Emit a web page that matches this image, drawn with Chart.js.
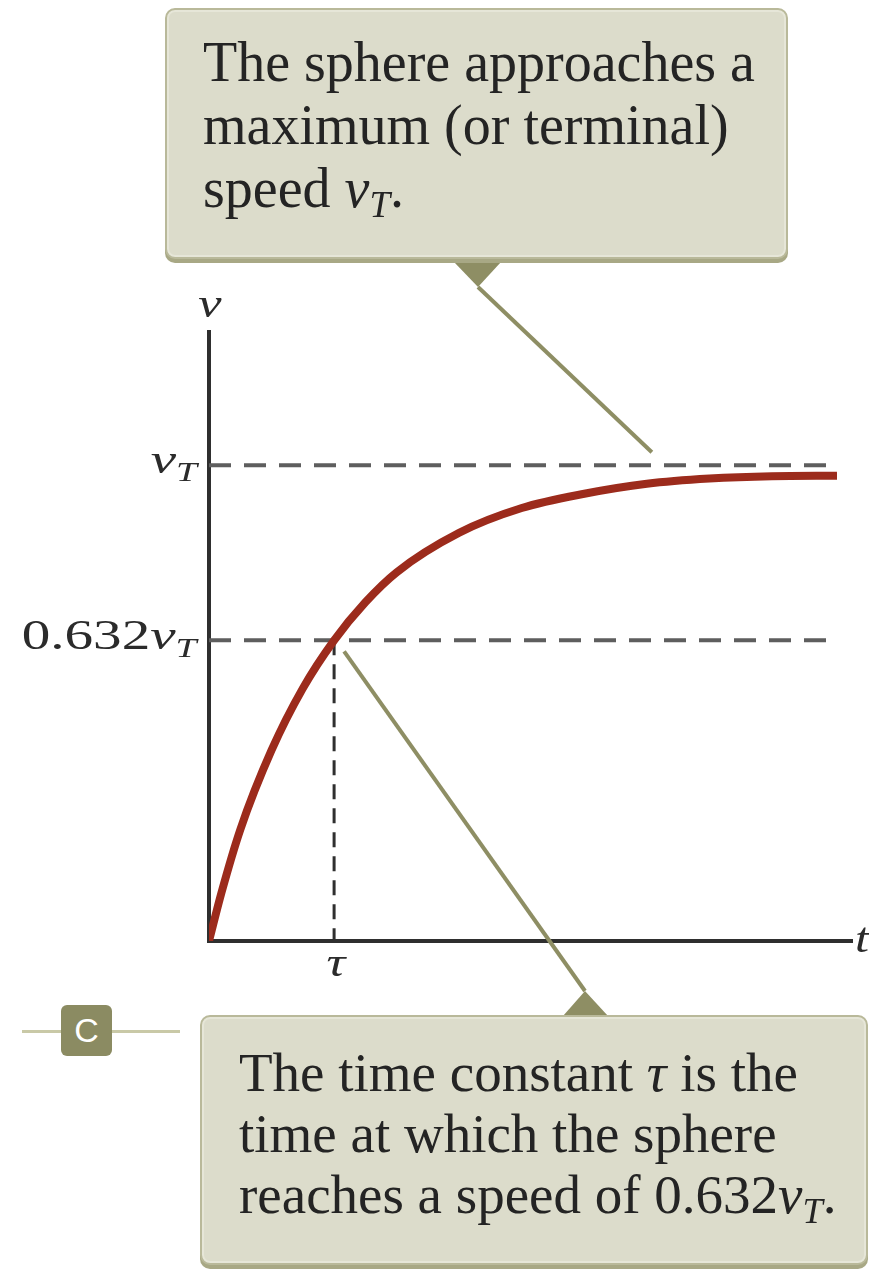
<!DOCTYPE html>
<html>
<head>
<meta charset="utf-8">
<title>Terminal speed of a sphere</title>
<script src="https://cdn.jsdelivr.net/npm/chart.js@4.4.1/dist/chart.umd.min.js"></script>
<style>
  html, body { margin: 0; background: #fff; }
  #stage { position: relative; width: 869px; height: 1271px; overflow: hidden; }
  #plot { position: absolute; left: 0; top: 0; }

  /* callout boxes */
  .note {
    position: absolute; box-sizing: border-box;
    background: #dcdccb; border: 2px solid #b9b99a; border-radius: 10px;
    box-shadow: inset 0 0 0 2px #e6e6d8, 0 4px 0 #a8a885;
    color: #242424; font-family: "Liberation Serif", serif;
    font-size: 56px; white-space: nowrap;
  }
  .note i, .m i { font-style: italic; }
  .note sub, .m sub { font-size: 0.66em; vertical-align: -0.28em; line-height: 0; }
  #note-top { left: 165px; top: 8px; width: 623px; height: 251px; padding: 21px 0 0 36px; line-height: 63px; }
  #note-bottom { left: 200px; top: 1015px; width: 668px; height: 250px; padding: 25px 0 0 37px; line-height: 61px; font-size: 55px; }

  /* axis labels, placed from the scales once the layout is known */
  .m {
    position: absolute; font-family: "Liberation Serif", serif; font-size: 42px;
    line-height: 42px; color: #2b2b2b; white-space: nowrap;
  }
  .m.ylab { transform: scaleX(1.36); transform-origin: 100% 50%; }
  .m.center { transform: translateX(-50%) scaleX(1.25); }
  .m.side { transform: scaleX(1.2); transform-origin: 0 50%; }

  /* part marker */
  #part { position: absolute; left: 61px; top: 1005px; width: 51px; height: 51px;
    background: #8b8b62; border-radius: 6px; color: #fff; text-align: center;
    font-family: "Liberation Sans Narrow", "Liberation Sans", sans-serif; font-size: 34px; line-height: 51px; }
  .rule { position: absolute; height: 3px; top: 1030px; background: #c9c9a7; }
</style>
</head>
<body>
<div id="stage">
  <canvas id="plot" width="869" height="1271"></canvas>

  <div class="rule" style="left:22px;width:39px"></div>
  <div class="rule" style="left:112px;width:68px"></div>
  <div id="part">C</div>

  <div class="note" id="note-top">The sphere approaches a<br>maximum (or terminal)<br>speed <i>v</i><sub><i>T</i></sub>.</div>
  <div class="note" id="note-bottom">The time constant <i>τ</i> is the<br>time at which the sphere<br>reaches a speed of 0.632<i>v</i><sub><i>T</i></sub>.</div>

  <div class="m center" id="lab-v"><i>v</i></div>
  <div class="m side" id="lab-t"><i>t</i></div>
  <div class="m center" id="lab-tau"><i>τ</i></div>
  <div class="m ylab" id="lab-vt"><i>v</i><sub><i>T</i></sub></div>
  <div class="m ylab" id="lab-632">0.632<i>v</i><sub><i>T</i></sub></div>
</div>

<script>
// Speed of a sphere falling through a viscous medium, t in units of tau and
// v in units of the terminal speed v_T.
const TIME_TAU = [0, 0.10, 0.25, 0.50, 0.75, 1.00, 1.25, 1.50, 2.00, 2.50, 3.00, 3.50, 4.00, 4.50, 5.02];
const SPEED_VT = [0, 0.102, 0.234, 0.401, 0.531, 0.632, 0.712, 0.775, 0.858, 0.910, 0.940, 0.961, 0.972, 0.977, 0.978];

// reference levels marked on the axes
const LEVEL_TERMINAL = 1;
const LEVEL_TAU = 0.632;
const TAU = 1;
const REF_END = 5.0;

const X_MAX = 5.14;
const Y_MAX = 1.28;

const CURVE_COLOR = "#9c2b1c";
const AXIS_COLOR = "#2f2f2f";
const DASH_COLOR = "#5e5e5e";
const LEADER_COLOR = "#8e8e64";

// Callout pointers: the tip/base sit on the boxes (page pixels), the far end
// hangs off a point on the chart (data units plus a small pixel offset).
const LEADERS = [
  { tip: [478, 287], base: [[454, 262], [501, 262]], t: 3.54, v: LEVEL_TERMINAL, dx: 0, dy: -13 },
  { tip: [585, 991], base: [[563, 1016], [608, 1016]], t: TAU, v: LEVEL_TAU, dx: 10, dy: 11 }
];

function pts(xs, ys) {
  return xs.map(function (x, i) { return { x: x, y: ys[i] }; });
}

function refLine(points, color, width, dash) {
  return {
    data: points, borderColor: color, borderWidth: width, borderDash: dash,
    borderCapStyle: "butt", pointRadius: 0, tension: 0, fill: false
  };
}

const leaderPlugin = {
  id: "leaders",
  afterDatasetsDraw(chart) {
    const ctx = chart.ctx, xs = chart.scales.x, ys = chart.scales.y;
    ctx.save();
    ctx.strokeStyle = LEADER_COLOR;
    ctx.fillStyle = LEADER_COLOR;
    ctx.lineWidth = 4;
    LEADERS.forEach(function (l) {
      const ex = xs.getPixelForValue(l.t) + l.dx;
      const ey = ys.getPixelForValue(l.v) + l.dy;
      ctx.beginPath();
      ctx.moveTo(l.tip[0], l.tip[1]);
      ctx.lineTo(ex, ey);
      ctx.stroke();
      ctx.beginPath();
      ctx.moveTo(l.base[0][0], l.base[0][1]);
      ctx.lineTo(l.base[1][0], l.base[1][1]);
      ctx.lineTo(l.tip[0], l.tip[1]);
      ctx.closePath();
      ctx.fill();
    });
    ctx.restore();
  }
};

// put the html axis labels where the scales ended up
function place(id, left, baseline, fromRight) {
  const el = document.getElementById(id);
  el.style.top = (baseline - 0.8355 * 42) + "px";
  if (fromRight) el.style.right = (869 - left) + "px";
  else el.style.left = left + "px";
}

const labelPlugin = {
  id: "axisLabels",
  afterLayout(chart) {
    const xs = chart.scales.x, ys = chart.scales.y;
    const x0 = xs.getPixelForValue(0), y0 = ys.getPixelForValue(0);
    place("lab-v", x0 + 1, ys.top - 15, false);
    place("lab-t", xs.right + 3, y0 + 11, false);
    place("lab-tau", xs.getPixelForValue(TAU) + 2, y0 + 35, false);
    place("lab-vt", x0 - 12, ys.getPixelForValue(LEVEL_TERMINAL) + 8, true);
    place("lab-632", x0 - 12, ys.getPixelForValue(LEVEL_TAU) + 9, true);
  }
};

new Chart(document.getElementById("plot"), {
  type: "line",
  data: {
    datasets: [
      {
        data: pts(TIME_TAU, SPEED_VT), borderColor: CURVE_COLOR, borderWidth: 8,
        borderCapStyle: "butt", pointRadius: 0, cubicInterpolationMode: "monotone", fill: false
      },
      refLine(pts([0, REF_END], [LEVEL_TERMINAL, LEVEL_TERMINAL]), DASH_COLOR, 4, [22, 13]),
      refLine(pts([0, REF_END], [LEVEL_TAU, LEVEL_TAU]), DASH_COLOR, 4, [22, 13]),
      refLine(pts([TAU, TAU], [LEVEL_TAU, 0]), AXIS_COLOR, 3, [15, 9])
    ]
  },
  options: {
    responsive: false,
    devicePixelRatio: 1,
    animation: false,
    layout: { padding: { left: 209, right: 17, top: 332, bottom: 330 } },
    scales: {
      x: {
        type: "linear", min: 0, max: X_MAX,
        grid: { display: false, drawTicks: false },
        ticks: { display: false },
        border: { display: true, color: AXIS_COLOR, width: 4 }
      },
      y: {
        type: "linear", min: 0, max: Y_MAX,
        grid: { display: false, drawTicks: false },
        ticks: { display: false },
        border: { display: true, color: AXIS_COLOR, width: 4 }
      }
    },
    plugins: { legend: { display: false }, tooltip: { enabled: false } }
  },
  plugins: [leaderPlugin, labelPlugin]
});
</script>
</body>
</html>
